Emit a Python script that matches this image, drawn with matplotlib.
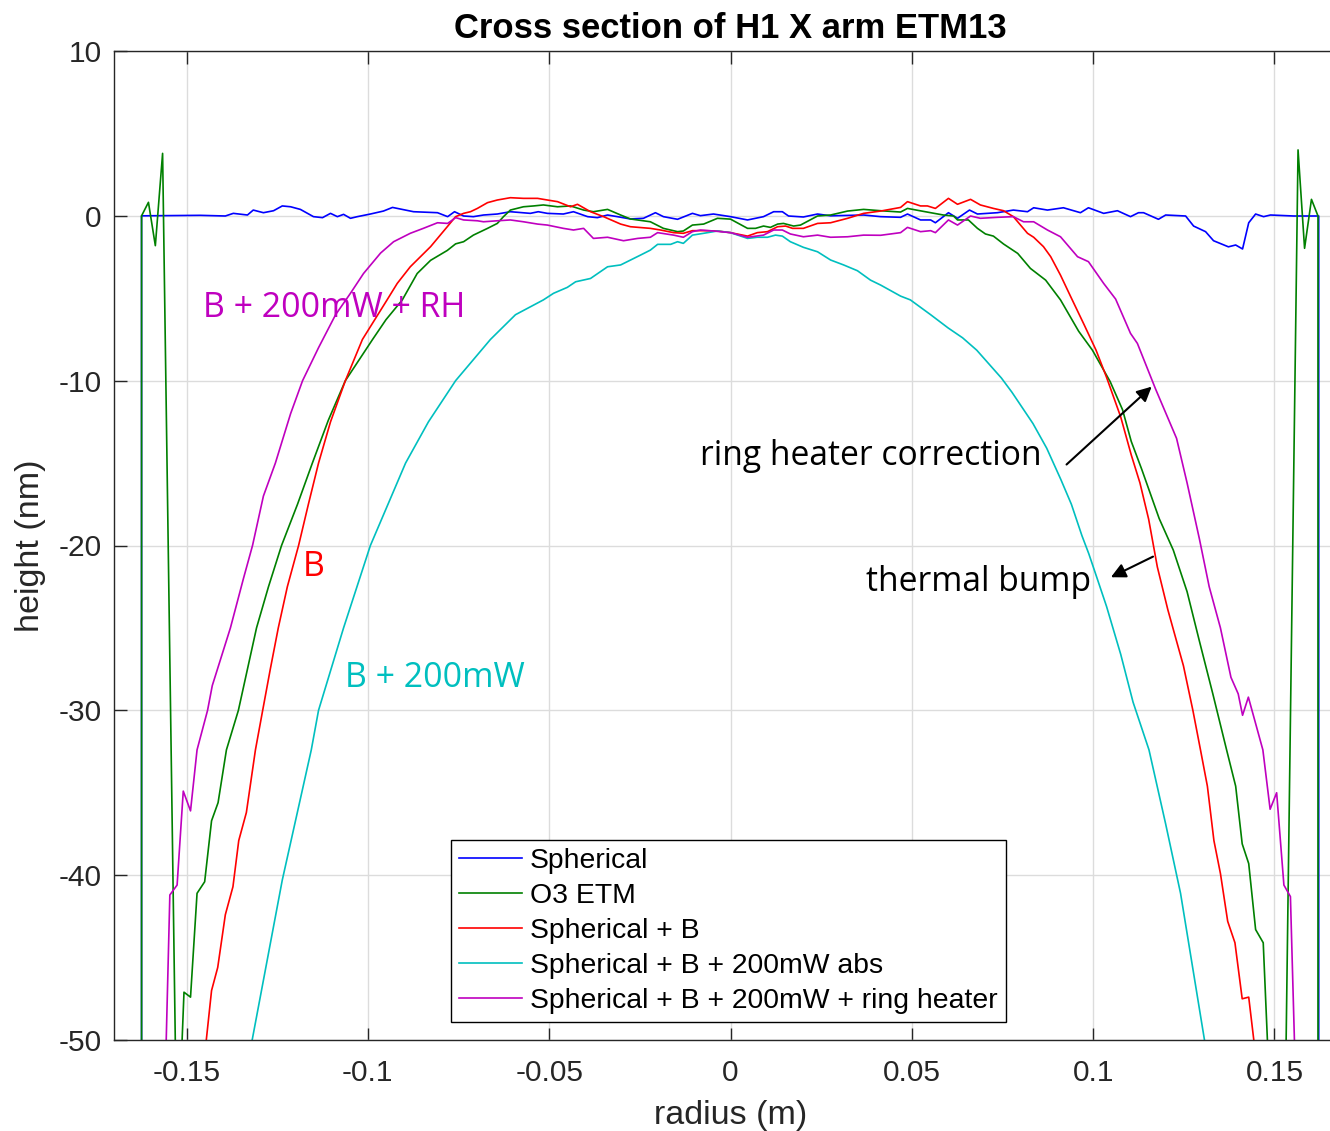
import matplotlib
matplotlib.use("Agg")
import matplotlib.pyplot as plt

plt.rcParams['font.family'] = ['Liberation Sans', 'DejaVu Sans']
plt.rcParams['axes.unicode_minus'] = False

# (radius m, height nm)
spherical = [(-0.1624, -60), (-0.1624, 0.0), (-0.1462, 0.03), (-0.1393, -0.01), (-0.1371, 0.15),
             (-0.1332, 0.05), (-0.1316, 0.35), (-0.1288, 0.19), (-0.1260, 0.31), (-0.1236, 0.60),
             (-0.1213, 0.55), (-0.1186, 0.39), (-0.1150, -0.05), (-0.1125, -0.11), (-0.1103, 0.15),
             (-0.1084, -0.05), (-0.1067, 0.09), (-0.1048, -0.15), (-0.1029, -0.05), (-0.0993, 0.11),
             (-0.0957, 0.29), (-0.0932, 0.51), (-0.0874, 0.25), (-0.0808, 0.19), (-0.0780, -0.05),
             (-0.0761, 0.25), (-0.0736, -0.01), (-0.0709, -0.05), (-0.0681, 0.05), (-0.0643, 0.11),
             (-0.0607, 0.25), (-0.0552, 0.15), (-0.0530, 0.25), (-0.0505, 0.15), (-0.0461, 0.11),
             (-0.0433, 0.25), (-0.0394, -0.05), (-0.0367, -0.11), (-0.0339, 0.05), (-0.0312, -0.05),
             (-0.0276, -0.19), (-0.0240, -0.15), (-0.0207, 0.19), (-0.0185, -0.05), (-0.0146, -0.21),
             (-0.0105, 0.15), (-0.0083, 0.01), (-0.0047, 0.11), (0.0, -0.05), (0.0047, -0.25),
             (0.0091, -0.05), (0.0119, 0.25), (0.0143, 0.25), (0.0160, -0.01), (0.0201, -0.07),
             (0.0240, 0.11), (0.0276, 0.0), (0.0367, 0.05), (0.0414, -0.05), (0.0469, -0.09),
             (0.0488, 0.11), (0.0524, -0.25), (0.0552, -0.25), (0.0565, -0.42), (0.0601, 0.19),
             (0.0626, -0.15), (0.0659, 0.35), (0.0681, 0.11), (0.0736, 0.19), (0.0780, 0.35),
             (0.0819, 0.25), (0.0836, 0.49), (0.0874, 0.35), (0.0918, 0.49), (0.0965, 0.19),
             (0.0987, 0.49), (0.1029, 0.15), (0.1067, 0.31), (0.1103, -0.05), (0.1125, 0.19),
             (0.1139, 0.19), (0.1180, -0.21), (0.1200, 0.05), (0.1255, -0.01), (0.1277, -0.62),
             (0.1310, -0.96), (0.1332, -1.51), (0.1373, -1.88), (0.1393, -1.77), (0.1412, -2.01),
             (0.1429, -0.42), (0.1448, 0.11), (0.1470, -0.05), (0.1489, 0.05), (0.1553, -0.01),
             (0.1622, -0.01), (0.1622, -60)]

o3_etm = [(-0.1624, -60), (-0.1624, 0.0), (-0.1605, 0.82), (-0.1586, -1.81), (-0.1566, 3.79),
          (-0.1526, -57.7), (-0.1507, -47.1), (-0.1489, -47.4), (-0.1471, -41.1), (-0.1450, -40.4),
          (-0.1431, -36.7), (-0.1413, -35.6), (-0.1390, -32.4), (-0.1357, -30.0), (-0.1332, -27.5),
          (-0.1307, -25.0), (-0.1274, -22.5), (-0.1238, -20.0), (-0.1194, -17.5), (-0.1153, -15.0),
          (-0.1109, -12.4), (-0.1062, -10.0), (-0.0987, -7.5), (-0.0950, -6.3), (-0.0905, -5.1),
          (-0.0864, -3.5), (-0.0827, -2.7), (-0.0781, -2.1), (-0.0758, -1.7), (-0.0736, -1.57),
          (-0.0709, -1.17), (-0.0670, -0.76), (-0.0643, -0.46), (-0.0626, -0.05), (-0.0607, 0.35),
          (-0.0571, 0.55), (-0.0543, 0.6), (-0.0516, 0.66), (-0.0477, 0.55), (-0.0441, 0.6),
          (-0.0405, 0.35), (-0.0378, 0.25), (-0.0339, 0.39), (-0.0303, 0.05), (-0.0276, -0.19),
          (-0.0221, -0.36), (-0.0185, -0.76), (-0.0146, -0.96), (-0.0130, -0.92), (-0.0105, -0.56),
          (-0.0074, -0.5), (-0.0036, -0.15), (0.0, -0.2), (0.0047, -0.76), (0.0069, -0.76),
          (0.0091, -0.62), (0.0110, -0.7), (0.0130, -0.5), (0.0146, -0.46), (0.0174, -0.62),
          (0.0193, -0.56), (0.0240, -0.01), (0.0276, 0.05), (0.0323, 0.29), (0.0367, 0.39),
          (0.0414, 0.31), (0.0469, 0.23), (0.0488, 0.45), (0.0532, 0.27), (0.0587, 0.05),
          (0.0615, -0.01), (0.0626, -0.25), (0.0656, -0.25), (0.0681, -0.76), (0.0703, -1.1),
          (0.0725, -1.23), (0.0753, -1.71), (0.0792, -2.28), (0.0827, -3.19), (0.0869, -3.9),
          (0.0910, -5.1), (0.0960, -7.0), (0.0998, -8.15), (0.1047, -10.06), (0.1081, -11.76),
          (0.1105, -13.68), (0.1134, -15.38), (0.1182, -18.36), (0.1221, -20.28), (0.1259, -22.8),
          (0.1293, -25.8), (0.1330, -29.0), (0.1368, -32.4), (0.1393, -34.6), (0.1411, -38.1),
          (0.1429, -39.3), (0.1448, -43.3), (0.1469, -44.1), (0.1500, -60), (0.1520, -70),
          (0.1565, 4.0), (0.1583, -1.97), (0.1602, 1.0), (0.1620, -0.01), (0.1620, -60)]

sph_b = [(-0.1460, -53), (-0.1431, -47.0), (-0.1414, -45.6), (-0.1393, -42.4), (-0.1372, -40.7),
         (-0.1356, -37.9), (-0.1335, -36.2), (-0.1310, -32.4), (-0.1290, -30.0), (-0.1269, -27.5),
         (-0.1247, -25.0), (-0.1222, -22.5), (-0.1191, -20.0), (-0.1164, -17.5), (-0.1136, -15.0),
         (-0.1103, -12.5), (-0.1062, -10.0), (-0.1015, -7.5), (-0.0947, -5.1), (-0.0919, -4.1),
         (-0.0883, -3.09), (-0.0827, -1.87), (-0.0781, -0.66), (-0.0758, -0.05), (-0.0736, 0.15),
         (-0.0717, 0.25), (-0.0698, 0.45), (-0.0670, 0.8), (-0.0643, 0.96), (-0.0607, 1.1),
         (-0.0571, 1.06), (-0.0532, 1.06), (-0.0505, 0.96), (-0.0477, 0.86), (-0.0441, 0.55),
         (-0.0422, 0.7), (-0.0386, 0.25), (-0.0350, -0.05), (-0.0303, -0.5), (-0.0276, -0.66),
         (-0.0221, -0.76), (-0.0193, -0.86), (-0.0157, -1.02), (-0.0130, -1.06), (-0.0105, -0.9),
         (-0.0074, -0.9), (-0.0036, -0.92), (0.0, -1.02), (0.0047, -1.23), (0.0074, -1.02),
         (0.0102, -0.96), (0.0130, -0.66), (0.0152, -0.62), (0.0171, -0.76), (0.0201, -0.76),
         (0.0240, -0.46), (0.0276, -0.42), (0.0323, -0.15), (0.0367, 0.15), (0.0414, 0.29),
         (0.0469, 0.51), (0.0488, 0.86), (0.0524, 0.6), (0.0543, 0.6), (0.0565, 0.45),
         (0.0601, 1.06), (0.0626, 0.7), (0.0662, 1.0), (0.0689, 0.66), (0.0725, 0.45),
         (0.0753, 0.31), (0.0780, -0.05), (0.0819, -1.06), (0.0836, -1.3), (0.0863, -1.87),
         (0.0883, -2.48), (0.0910, -3.6), (0.0938, -4.9), (0.0975, -6.6), (0.1008, -8.15),
         (0.1037, -9.8), (0.1076, -12.2), (0.1105, -14.5), (0.1129, -16.2), (0.1153, -18.4),
         (0.1177, -21.3), (0.1206, -23.9), (0.1230, -25.8), (0.1249, -27.3), (0.1275, -30.0),
         (0.1296, -32.4), (0.1315, -34.6), (0.1333, -37.9), (0.1351, -39.9), (0.1371, -42.8),
         (0.1391, -44.1), (0.1411, -47.5), (0.1429, -47.4), (0.1443, -50), (0.1460, -54)]

sph_b_200mw = [(-0.1330, -53), (-0.1319, -50), (-0.1236, -40.3), (-0.1156, -32.4), (-0.1136, -30.0),
               (-0.1067, -25.0), (-0.0993, -20.0), (-0.0896, -15.0), (-0.0833, -12.5), (-0.0758, -10.0),
               (-0.0662, -7.5), (-0.0593, -6.0), (-0.0516, -5.1), (-0.0488, -4.7), (-0.0450, -4.34),
               (-0.0427, -4.0), (-0.0386, -3.8), (-0.0339, -3.09), (-0.0303, -2.98), (-0.0248, -2.38),
               (-0.0221, -2.08), (-0.0201, -1.73), (-0.0165, -1.73), (-0.0146, -1.57), (-0.0130, -1.67),
               (-0.0105, -1.17), (-0.0074, -1.06), (-0.0036, -0.92), (0.0, -1.02), (0.0047, -1.37),
               (0.0074, -1.3), (0.0102, -1.3), (0.0124, -1.17), (0.0143, -1.23), (0.0165, -1.57),
               (0.0201, -1.91), (0.0240, -2.18), (0.0276, -2.68), (0.0312, -2.98), (0.0350, -3.33),
               (0.0386, -3.9), (0.0414, -4.2), (0.0469, -4.87), (0.0496, -5.1), (0.0552, -6.0),
               (0.0600, -6.8), (0.0640, -7.4), (0.0679, -8.15), (0.0747, -9.84), (0.0776, -10.7),
               (0.0834, -12.6), (0.0872, -14.1), (0.0911, -16.0), (0.0940, -17.5), (0.0969, -19.4),
               (0.0988, -20.5), (0.1008, -21.8), (0.1037, -23.7), (0.1076, -26.6), (0.1110, -29.5),
               (0.1154, -32.4), (0.1200, -36.9), (0.1241, -41.1), (0.1307, -50), (0.1320, -52)]

sph_b_200mw_rh = [(-0.1565, -57), (-0.1556, -50), (-0.1546, -41.2), (-0.1526, -40.6), (-0.1509, -34.9),
                  (-0.1489, -36.1), (-0.1471, -32.4), (-0.1442, -30.0), (-0.1429, -28.5), (-0.1379, -25.0),
                  (-0.1343, -22.0), (-0.1318, -20.0), (-0.1288, -17.0), (-0.1255, -15.0), (-0.1213, -12.0),
                  (-0.1180, -10.0), (-0.1136, -8.0), (-0.1089, -6.0), (-0.1048, -4.7), (-0.1012, -3.5),
                  (-0.0965, -2.26), (-0.0929, -1.57), (-0.0883, -1.06), (-0.0847, -0.76), (-0.0808, -0.42),
                  (-0.0780, -0.46), (-0.0758, -0.11), (-0.0736, -0.25), (-0.0698, -0.3), (-0.0681, -0.36),
                  (-0.0643, -0.3), (-0.0607, -0.25), (-0.0571, -0.36), (-0.0532, -0.5), (-0.0505, -0.56),
                  (-0.0461, -0.76), (-0.0433, -0.86), (-0.0405, -0.76), (-0.0378, -1.37), (-0.0339, -1.3),
                  (-0.0295, -1.51), (-0.0256, -1.37), (-0.0221, -1.3), (-0.0201, -1.02), (-0.0157, -1.17),
                  (-0.0130, -1.3), (-0.0105, -0.96), (-0.0083, -0.86), (-0.0047, -0.92), (0.0, -1.02),
                  (0.0047, -1.3), (0.0091, -1.17), (0.0119, -0.86), (0.0143, -0.86), (0.0165, -1.1),
                  (0.0201, -1.27), (0.0240, -1.17), (0.0276, -1.3), (0.0323, -1.27), (0.0367, -1.17),
                  (0.0414, -1.18), (0.0469, -1.02), (0.0488, -0.7), (0.0524, -0.96), (0.0552, -0.9),
                  (0.0565, -1.02), (0.0601, -0.25), (0.0626, -0.56), (0.0662, -0.01), (0.0689, -0.15),
                  (0.0736, -0.09), (0.0780, -0.05), (0.0808, -0.36), (0.0836, -0.36), (0.0874, -0.86),
                  (0.0910, -1.27), (0.0957, -2.48), (0.0987, -2.78), (0.1029, -4.1), (0.1062, -5.05),
                  (0.1103, -7.13), (0.1122, -7.74), (0.1172, -10.5), (0.1201, -12.0), (0.1230, -13.5),
                  (0.1259, -16.2), (0.1293, -19.6), (0.1320, -22.5), (0.1351, -25.0), (0.1380, -28.0),
                  (0.1400, -29.0), (0.1412, -30.3), (0.1428, -29.2), (0.1448, -30.8), (0.1468, -32.4),
                  (0.1488, -36.0), (0.1506, -35.0), (0.1526, -40.6), (0.1544, -41.3), (0.1555, -50),
                  (0.1565, -57)]

series_labels = ['Spherical', 'O3 ETM', 'Spherical + B', 'Spherical + B + 200mW abs',
                 'Spherical + B + 200mW + ring heater']
series_colors = ['#0000ff', '#008000', '#ff0000', '#00bfbf', '#bf00bf']

xtick_vals = [-0.15, -0.1, -0.05, 0, 0.05, 0.1, 0.15]
xtick_labels = ['-0.15', '-0.1', '-0.05', '0', '0.05', '0.1', '0.15']
ytick_vals = [-50, -40, -30, -20, -10, 0, 10]
ytick_labels = ['-50', '-40', '-30', '-20', '-10', '0', '10']

fig = plt.figure(figsize=(13.3, 11.31), dpi=100)
ax = fig.add_axes([114 / 1330, 91 / 1131, 1233 / 1330, 989 / 1131])

for data, lab, col in zip([spherical, o3_etm, sph_b, sph_b_200mw, sph_b_200mw_rh],
                          series_labels, series_colors):
    xs = [p[0] for p in data]
    ys = [p[1] for p in data]
    ax.plot(xs, ys, color=col, lw=1.2, label=lab)

ax.set_xlim(-0.17, 0.17)
ax.set_ylim(-50, 10)
ax.set_xticks(xtick_vals)
ax.set_xticklabels(xtick_labels)
ax.set_yticks(ytick_vals)
ax.set_yticklabels(ytick_labels)
ax.grid(True, color='#dcdcdc', lw=1.0)
ax.set_axisbelow(True)
ax.tick_params(direction='in', length=9, width=1.0, top=True, right=True,
               labelsize=21.5, colors='#262626')
ax.tick_params(axis='x', pad=14)
ax.tick_params(axis='y', pad=9)
for s in ax.spines.values():
    s.set_color('#262626')
    s.set_linewidth(1.0)

ax.set_xlabel('radius (m)', fontsize=24.5, color='#262626', labelpad=9)
ax.set_ylabel('height (nm)', fontsize=24.5, color='#262626', labelpad=9)
ax.set_title('Cross section of H1 X arm ETM13', fontsize=24.9, fontweight='bold', pad=9)

leg = ax.legend(loc='lower left', bbox_to_anchor=(0.2733, 0.0182), borderaxespad=0,
                fontsize=20.4, handlelength=2.2, handletextpad=0.28, labelspacing=0.31,
                borderpad=0.3, fancybox=False, framealpha=1)
leg.get_frame().set_edgecolor('black')
leg.get_frame().set_linewidth(1.0)

ann_font = ['Open Sans', 'DejaVu Sans']
ax.text(-0.1092, -5.6, 'B + 200mW + RH', color='#bf00bf', fontsize=24.4, family=ann_font,
        ha='center', va='center')
ax.text(-0.115, -21.3, 'B', color='#ff0000', fontsize=24.4, family=ann_font, ha='center', va='center')
ax.text(-0.0816, -28.05, 'B + 200mW', color='#00bfbf', fontsize=24.4, family=ann_font,
        ha='center', va='center')
ax.text(-0.0085, -14.6, 'ring heater correction', color='black', fontsize=24.2, family=ann_font,
        ha='left', va='center')
ax.text(0.0375, -22.2, 'thermal bump', color='black', fontsize=24.2, family=ann_font,
        ha='left', va='center')
ax.annotate('', xy=(0.1167, -10.25), xytext=(0.0921, -15.2),
            arrowprops=dict(arrowstyle='-|>', color='black', lw=1.5, mutation_scale=22))
ax.annotate('', xy=(0.1042, -22.0), xytext=(0.1172, -20.6),
            arrowprops=dict(arrowstyle='-|>', color='black', lw=1.5, mutation_scale=22))

fig.savefig('out.png', dpi=100)
